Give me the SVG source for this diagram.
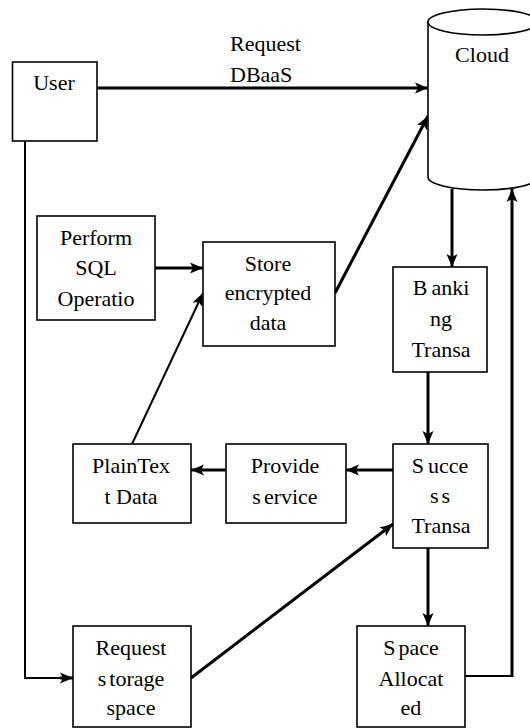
<svg xmlns="http://www.w3.org/2000/svg" width="530" height="728" viewBox="0 0 530 728">
<defs>
<style>
.box{fill:#fff;stroke:#000;stroke-width:1.6}
.t{font-family:'Liberation Serif','DejaVu Serif',serif;font-size:22px;fill:#000;text-anchor:middle}
.c{fill:none;stroke:#000;stroke-width:3}
.thin{fill:none;stroke:#000;stroke-width:2}
</style>
<marker id="ah" markerUnits="userSpaceOnUse" markerWidth="14" markerHeight="14" viewBox="0 0 14 14" refX="13" refY="7" orient="auto">
<path d="M0,1.5 L13,7 L0,12.5 L3,7 Z" fill="#000"/>
</marker>
<clipPath id="lbl"><rect x="0" y="0" width="530" height="82"/></clipPath>
</defs>
<rect width="530" height="728" fill="#fff"/>
<g id="connectors">
<line class="c" x1="97" y1="88" x2="428" y2="88" marker-end="url(#ah)"/>
<polyline class="thin" points="25,141 25,678 73,678"/>
<line class="c" x1="60" y1="678" x2="73" y2="678" marker-end="url(#ah)"/>
<line class="c" x1="155" y1="268" x2="203" y2="268" marker-end="url(#ah)"/>
<line class="c" x1="335" y1="293" x2="428" y2="116" marker-end="url(#ah)"/>
<line class="thin" x1="132" y1="444" x2="203" y2="293" marker-end="url(#ah)"/>
<line class="c" x1="452" y1="189" x2="452" y2="267" marker-end="url(#ah)"/>
<line class="c" x1="428" y1="372" x2="428" y2="444" marker-end="url(#ah)"/>
<line class="c" x1="393" y1="470" x2="346" y2="470" marker-end="url(#ah)"/>
<line class="c" x1="226" y1="470" x2="191" y2="470" marker-end="url(#ah)"/>
<line class="c" x1="428" y1="548" x2="428" y2="626" marker-end="url(#ah)"/>
<line class="c" x1="191" y1="678" x2="393" y2="524" marker-end="url(#ah)"/>
<polyline class="thin" points="465,676 512,676"/>
<line class="c" x1="512" y1="677" x2="512" y2="189" marker-end="url(#ah)"/>
</g>
<g id="label-request">
<text class="t" font-family="Liberation Serif" style="text-anchor:start" x="230" y="51">Request</text>
<text class="t" style="text-anchor:start" x="230" y="82" clip-path="url(#lbl)">DBaaS</text>
</g>
<g id="cloud">
<path class="box" d="M428,22 L428,177 A55,13 0 0 0 538,177 L538,22 Z"/>
<ellipse class="box" cx="483" cy="22" rx="55" ry="13"/>
<text class="t" x="482" y="62">Cloud</text>
</g>
<g id="user">
<rect class="box" x="12.5" y="62" width="84.5" height="79"/>
<text class="t" x="54" y="90">User</text>
</g>
<g id="perform-sql">
<rect class="box" x="37" y="216" width="118" height="104"/>
<text class="t" x="96" y="245">Perform</text>
<text class="t" x="96" y="275">SQL</text>
<text class="t" x="96" y="306">Operatio</text>
</g>
<g id="store-encrypted">
<rect class="box" x="203" y="242" width="132" height="104"/>
<text class="t" x="268" y="271">Store</text>
<text class="t" x="268" y="300">encrypted</text>
<text class="t" x="268" y="330">data</text>
</g>
<g id="banking">
<rect class="box" x="393" y="267" width="94" height="105"/>
<text class="t" x="441" y="295">B<tspan dx="4">anki</tspan></text>
<text class="t" x="441" y="326">ng</text>
<text class="t" x="441" y="357">Transa</text>
</g>
<g id="plaintext">
<rect class="box" x="73" y="444" width="118" height="79"/>
<text class="t" x="131" y="473">PlainTex</text>
<text class="t" x="131" y="504">t Data</text>
</g>
<g id="provide-service">
<rect class="box" x="226" y="444" width="120" height="79"/>
<text class="t" x="285" y="473">Provide</text>
<text class="t" x="285" y="504">s<tspan dx="3">ervice</tspan></text>
</g>
<g id="success">
<rect class="box" x="393" y="444" width="95" height="104"/>
<text class="t" x="440" y="473">S<tspan dx="4">ucce</tspan></text>
<text class="t" x="440" y="503">s<tspan dx="3">s</tspan></text>
<text class="t" x="441" y="533">Transa</text>
</g>
<g id="request-storage">
<rect class="box" x="73" y="626" width="118" height="101"/>
<text class="t" x="131" y="655">Request</text>
<text class="t" x="131" y="686">s<tspan dx="3">torage</tspan></text>
<text class="t" x="131" y="715">space</text>
</g>
<g id="space-allocated">
<rect class="box" x="357" y="626" width="108" height="101"/>
<text class="t" x="411" y="655">S<tspan dx="3">pace</tspan></text>
<text class="t" x="411" y="686">Allocat</text>
<text class="t" x="411" y="715">ed</text>
</g>
</svg>
